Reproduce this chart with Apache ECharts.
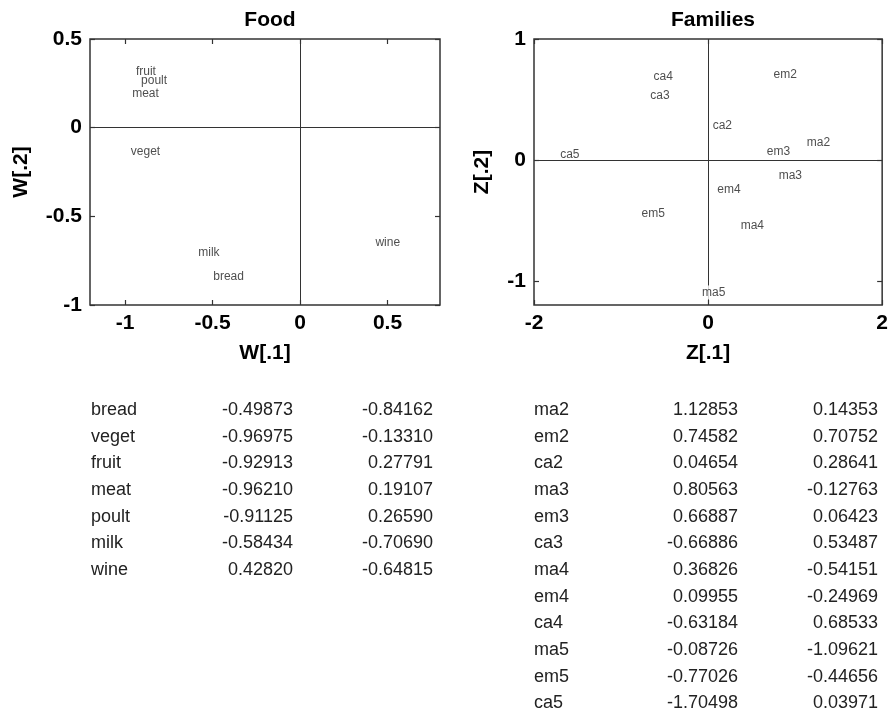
<!DOCTYPE html>
<html><head><meta charset="utf-8">
<script src="https://cdn.jsdelivr.net/npm/echarts@6/dist/echarts.min.js"></script>
<style>html,body{margin:0;padding:0;background:#fff}#c{width:891px;height:715px}</style>
</head><body><div id="c"></div>
<script>
const foodNames = ['bread','veget','fruit','meat','poult','milk','wine'];
const foodW1 = [-0.49873,-0.96975,-0.92913,-0.96210,-0.91125,-0.58434,0.42820];
const foodW2 = [-0.84162,-0.13310,0.27791,0.19107,0.26590,-0.70690,-0.64815];
const famNames = ['ma2','em2','ca2','ma3','em3','ca3','ma4','em4','ca4','ma5','em5','ca5'];
const famZ1 = [1.12853,0.74582,0.04654,0.80563,0.66887,-0.66886,0.36826,0.09955,-0.63184,-0.08726,-0.77026,-1.70498];
const famZ2 = [0.14353,0.70752,0.28641,-0.12763,0.06423,0.53487,-0.54151,-0.24969,0.68533,-1.09621,-0.44656,0.03971];
const foodXTicks = [-1,-0.5,0,0.5];
const foodYTicks = [-1,-0.5,0,0.5];
const famXTicks = [-2,0,2];
const famYTicks = [-1,0,1];

const FONT = 'Liberation Sans, Arial, Helvetica, sans-serif';
const TXT = '#222';

function axis(kind, gridIndex, min, max, ticks, opts) {
  opts = opts || {};
  const main = !opts.secondary;
  const a = {
    type: 'value', gridIndex, min, max,
    position: opts.position,
    axisLine: {show: false, onZero: false},
    splitLine: {show: false},
    axisTick: {show: true, inside: true, length: 5, customValues: ticks, lineStyle: {color: '#333', width: 1.2}},
    axisLabel: main ? {show: true, customValues: ticks, margin: 8, color: '#000', fontSize: 21, fontWeight: 'bold', fontFamily: FONT,
      showMinLabel: true, showMaxLabel: true} : {show: false}
  };
  if (main && opts.name) {
    a.name = opts.name; a.nameLocation = 'middle'; a.nameGap = opts.nameGap;
    a.nameTextStyle = {color: '#000', fontSize: 21, fontWeight: 'bold', fontFamily: FONT};
  }
  return a;
}

function pts(names, xs, ys, extra) {
  return names.map((n, i) => {
    const d = {name: n, value: [xs[i], ys[i]]};
    if (extra && extra[n]) d.label = extra[n];
    return d;
  });
}

const labelStyle = {show: true, formatter: '{b}', position: 'right', distance: 0, align: 'left', verticalAlign: 'middle',
  color: TXT, fontSize: 12, fontFamily: FONT};
const zeroLines = {silent: true, symbol: ['none','none'], z: 1, animation: false, label: {show: false},
  lineStyle: {color: '#333', width: 1, type: 'solid'}, emphasis: {disabled: true},
  data: [{xAxis: 0}, {yAxis: 0}]};

const graphics = [];
function table(names, c1, c2, xName, xC1, xC2) {
  const y0 = 410, dy = 26.67;
  names.forEach((n, i) => {
    const y = y0 + i * dy;
    const st = {font: '18px ' + FONT, fill: TXT, textVerticalAlign: 'middle'};
    graphics.push({type: 'text', x: xName, y, style: Object.assign({text: n, textAlign: 'left'}, st)});
    graphics.push({type: 'text', x: xC1, y, style: Object.assign({text: c1[i].toFixed(5), textAlign: 'right'}, st)});
    graphics.push({type: 'text', x: xC2, y, style: Object.assign({text: c2[i].toFixed(5), textAlign: 'right'}, st)});
  });
}
table(foodNames, foodW1, foodW2, 91, 293, 433);
table(famNames, famZ1, famZ2, 534, 738, 878);

const option = {
  animation: false,
  backgroundColor: '#fff',
  title: [
    {text: 'Food', left: 265, top: 5, textAlign: 'center', textStyle: {fontSize: 21, fontWeight: 'bold', color: '#000', fontFamily: FONT}},
    {text: 'Families', left: 708, top: 5, textAlign: 'center', textStyle: {fontSize: 21, fontWeight: 'bold', color: '#000', fontFamily: FONT}}
  ],
  grid: [
    {left: 90, top: 39, width: 350, height: 266, show: true, borderColor: '#333', borderWidth: 1.5, backgroundColor: 'transparent'},
    {left: 534, top: 39, width: 349, height: 266, show: true, borderColor: '#333', borderWidth: 1.5, backgroundColor: 'transparent'}
  ],
  xAxis: [
    axis('x', 0, -1.2, 0.8, foodXTicks, {position: 'bottom', name: 'W[.1]', nameGap: 38}),
    axis('x', 1, -2, 2, famXTicks, {position: 'bottom', name: 'Z[.1]', nameGap: 38}),
    axis('x', 0, -1.2, 0.8, foodXTicks, {position: 'top', secondary: true}),
    axis('x', 1, -2, 2, famXTicks, {position: 'top', secondary: true})
  ],
  yAxis: [
    axis('y', 0, -1, 0.5, foodYTicks, {position: 'left', name: 'W[.2]', nameGap: 58}),
    axis('y', 1, -1.2, 1, famYTicks, {position: 'left', name: 'Z[.2]', nameGap: 41}),
    axis('y', 0, -1, 0.5, foodYTicks, {position: 'right', secondary: true}),
    axis('y', 1, -1.2, 1, famYTicks, {position: 'right', secondary: true})
  ],
  series: [
    {type: 'scatter', xAxisIndex: 0, yAxisIndex: 0, z: 3, symbolSize: 1, itemStyle: {color: 'transparent'},
      label: labelStyle, emphasis: {disabled: true}, markLine: zeroLines,
      data: pts(foodNames, foodW1, foodW2, {fruit: {offset: [-2, -7]}})},
    {type: 'scatter', xAxisIndex: 1, yAxisIndex: 1, z: 3, symbolSize: 1, itemStyle: {color: 'transparent'},
      label: labelStyle, emphasis: {disabled: true}, markLine: zeroLines,
      data: pts(famNames, famZ1, famZ2, {ma5: {backgroundColor: '#fff', padding: [1, 1]}})}
  ],
  graphic: {elements: graphics}
};
const chart = echarts.init(document.getElementById('c'), null, {renderer: 'canvas'});
chart.setOption(option);
</script></body></html>
